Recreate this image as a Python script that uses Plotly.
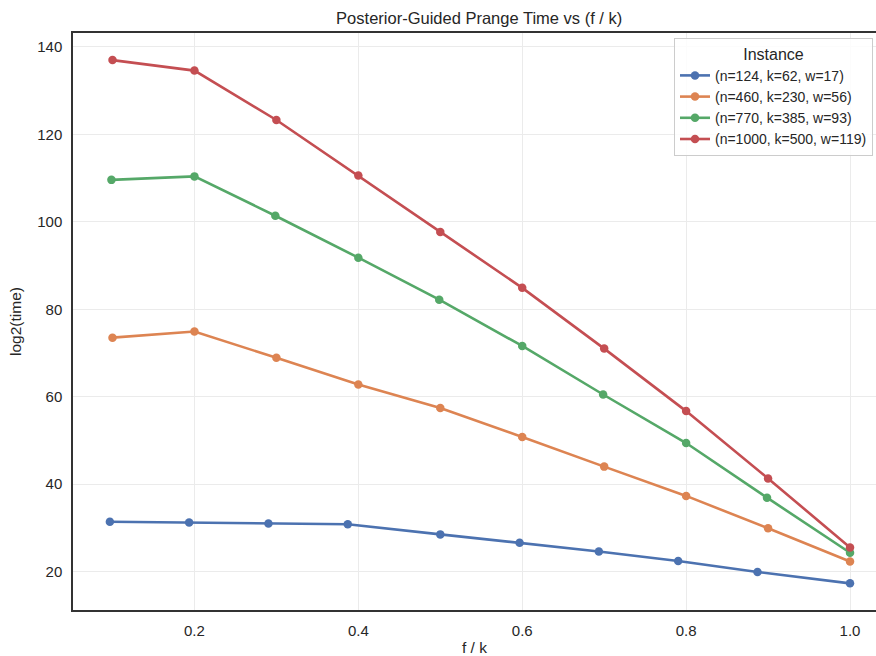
import plotly.graph_objects as go

labels = ["(n=124, k=62, w=17)", "(n=460, k=230, w=56)", "(n=770, k=385, w=93)", "(n=1000, k=500, w=119)"]
colors = ["#4C72B0", "#DD8452", "#55A868", "#C44E52"]

x_blue = [0.0968, 0.1935, 0.2903, 0.3871, 0.5, 0.5968, 0.6935, 0.7903, 0.8871, 1.0]
y_blue = [31.4, 31.2, 31.0, 30.8, 28.5, 26.6, 24.6, 22.4, 19.9, 17.3]

x_orange = [0.1, 0.2, 0.3, 0.4, 0.5, 0.6, 0.7, 0.8, 0.9, 1.0]
y_orange = [73.5, 74.9, 68.9, 62.8, 57.4, 50.8, 44.0, 37.3, 29.9, 22.3]

x_green = [0.0987, 0.2, 0.2987, 0.4, 0.4987, 0.6, 0.6987, 0.8, 0.8987, 1.0]
y_green = [109.6, 110.4, 101.4, 91.8, 82.2, 71.6, 60.5, 49.4, 36.9, 24.3]

x_red = [0.1, 0.2, 0.3, 0.4, 0.5, 0.6, 0.7, 0.8, 0.9, 1.0]
y_red = [137.0, 134.6, 123.3, 110.6, 97.7, 84.9, 71.0, 56.7, 41.3, 25.5]

xs = [x_blue, x_orange, x_green, x_red]
ys = [y_blue, y_orange, y_green, y_red]

x_ticks = [0.2, 0.4, 0.6, 0.8, 1.0]
y_ticks = [20, 40, 60, 80, 100, 120, 140]

fig = go.Figure()
for xv, yv, lab, col in zip(xs, ys, labels, colors):
    fig.add_trace(go.Scatter(
        x=xv, y=yv, name=lab, mode="lines+markers",
        line=dict(color=col, width=2.6),
        marker=dict(color=col, size=8.5),
    ))

font_family = "Liberation Sans, Arial, sans-serif"
fig.update_layout(
    width=876, height=656,
    margin=dict(l=73, r=0, t=33, b=46, autoexpand=False),
    paper_bgcolor="white", plot_bgcolor="white",
    font=dict(family=font_family, color="#262626", size=15),
    title=dict(text="Posterior-Guided Prange Time vs (f / k)", x=0.547, xref="container",
               xanchor="center", y=1 - 18 / 656, yref="container", yanchor="middle",
               font=dict(size=16.5, color="#262626")),
    xaxis=dict(range=[0.0518, 1.0317], tickvals=x_ticks, tickformat=".1f",
               showgrid=True, gridcolor="#ebebeb", gridwidth=1,
               showline=True, linecolor="#333333", linewidth=1.5, mirror=True,
               zeroline=False, ticks="outside", ticklen=6, tickcolor="rgba(0,0,0,0)",
               automargin=False,
               title=dict(text="f / k", font=dict(size=15.5), standoff=4),
               tickfont=dict(size=15)),
    yaxis=dict(range=[11.2, 143.2], tickvals=y_ticks,
               showgrid=True, gridcolor="#ebebeb", gridwidth=1,
               showline=True, linecolor="#333333", linewidth=1.5, mirror=False,
               zeroline=False, ticks="outside", ticklen=6, tickcolor="rgba(0,0,0,0)",
               automargin=False,
               title=dict(text="log2(time)", font=dict(size=15.5), standoff=12),
               tickfont=dict(size=15)),
    legend=dict(xref="container", yref="container", x=674 / 876, y=1 - 38 / 656,
                xanchor="left", yanchor="top",
                bgcolor="rgba(255,255,255,0.85)", bordercolor="#cccccc", borderwidth=1,
                font=dict(size=14, color="#262626"),
                title=dict(text="Instance", side="top center", font=dict(size=16)),
                tracegroupgap=0),
    showlegend=True,
)

fig.write_html("out.html", config={"displayModeBar": False})

# remove default page margin so the figure sits at the window's top-left corner
with open("out.html", "r", encoding="utf-8") as fh:
    html = fh.read()
html = html.replace("<head>", "<head><style>html,body{margin:0;padding:0;overflow:hidden;}</style>", 1)
with open("out.html", "w", encoding="utf-8") as fh:
    fh.write(html)
